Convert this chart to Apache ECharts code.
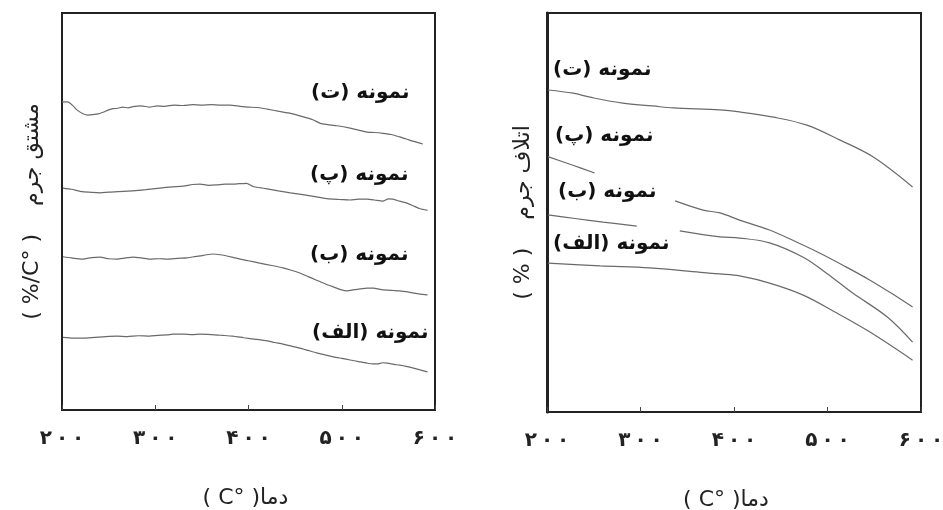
<!DOCTYPE html>
<html>
<head>
<meta charset="utf-8">
<script src="https://cdn.jsdelivr.net/npm/echarts@6/dist/echarts.min.js"></script>
<style>html,body{margin:0;padding:0;background:#fff}#c{width:943px;height:510px}</style>
</head>
<body>
<div id="c"></div>
<script>
// ---- data ----
var xTicks = [200, 300, 400, 500, 600];
var xTickLabels = ['۲۰۰', '۳۰۰', '۴۰۰', '۵۰۰', '۶۰۰'];
var seriesNames = ['نمونه (الف)', 'نمونه (ب)', 'نمونه (پ)', 'نمونه (ت)'];

// left panel: derivative of mass (relative units)
var leftA = [[201,18.3],[212,18.1],[222,18.1],[235,18.3],[247,18.5],[259,18.6],[270,18.5],[282,18.7],[294,18.6],[303,18.8],[313,18.9],[319,19.1],[330,19.1],[340,19.0],[348,19.1],[360,19.0],[372,18.8],[383,18.6],[395,18.2],[408,17.8],[420,17.4],[428,17.0],[437,16.6],[446,16.1],[455,15.6],[464,15.0],[473,14.4],[482,13.9],[491,13.4],[500,13.0],[509,12.6],[518,12.2],[527,11.8],[533,11.6],[538,11.6],[544,11.9],[549,11.8],[556,11.5],[562,11.3],[569,11.0],[576,10.6],[584,10.1],[592,9.6]];
var leftB = [[201,38.6],[210,38.3],[222,38.0],[232,38.4],[241,38.5],[250,38.1],[259,38.0],[268,38.3],[276,38.5],[285,38.3],[294,38.0],[304,38.1],[313,38.0],[324,38.2],[334,38.3],[341,38.6],[348,38.8],[355,39.1],[362,39.3],[370,39.1],[377,38.8],[384,38.4],[391,38.0],[400,37.6],[412,37.0],[425,36.4],[437,35.8],[446,35.2],[455,34.5],[464,33.6],[473,32.7],[482,31.8],[491,31.0],[498,30.4],[506,30.0],[513,30.3],[520,30.5],[527,30.7],[534,30.7],[541,30.4],[549,30.2],[556,30.1],[562,30.0],[569,29.8],[576,29.5],[584,29.2],[592,29.0]];
var leftP = [[201,55.9],[210,55.6],[222,55.0],[232,54.8],[241,54.7],[250,54.9],[260,55.0],[276,55.2],[290,55.5],[305,55.9],[318,56.2],[330,56.4],[340,56.8],[348,56.9],[357,56.6],[366,56.7],[375,56.9],[383,56.9],[390,57.0],[398,57.1],[405,56.3],[412,56.0],[420,55.7],[432,55.2],[445,54.7],[460,54.2],[473,53.7],[482,53.3],[491,53.1],[500,53.0],[509,52.9],[518,53.1],[527,53.1],[535,52.9],[544,52.6],[550,53.2],[555,53.1],[562,52.6],[570,52.1],[577,51.4],[584,50.7],[592,50.3]];
var leftT = [[200,77.6],[206,77.6],[211,76.8],[216,75.6],[222,74.7],[228,74.3],[233,74.4],[239,74.6],[244,75.0],[250,75.6],[255,75.9],[260,76.0],[265,76.3],[271,76.1],[276,76.4],[285,76.6],[294,76.3],[302,76.6],[310,76.5],[320,76.8],[330,76.7],[340,76.9],[350,76.8],[360,76.9],[370,76.8],[380,76.8],[391,76.5],[400,76.3],[410,76.2],[420,75.8],[433,75.2],[445,74.7],[458,73.9],[469,73.1],[477,72.2],[485,71.9],[495,71.6],[509,71.0],[518,70.5],[527,70.0],[535,69.9],[544,69.7],[553,69.4],[562,68.8],[570,68.2],[578,67.6],[587,67.0]];

// right panel: mass loss (relative units); null = break in the curve
var rightA = [[201,37.3],[257,36.6],[310,36.1],[364,35.0],[385,34.6],[406,34.1],[438,32.3],[474,29.3],[510,24.8],[545,20.1],[591,13.0]];
var rightB = [[201,49.4],[230,48.5],[260,47.6],[296,46.6],[318,null],[342,45.4],[385,43.9],[406,43.6],[438,42.4],[474,38.8],[499,34.8],[527,29.8],[564,23.8],[591,17.5]];
var rightP = [[201,64.0],[227,61.9],[251,59.9],[290,null],[337,52.9],[367,50.6],[385,49.9],[406,48.1],[438,45.6],[465,42.8],[492,39.8],[518,36.6],[545,33.1],[568,29.8],[591,26.3]];
var rightT = [[201,80.7],[228,79.9],[246,78.9],[281,77.4],[313,76.7],[335,76.2],[385,75.7],[406,75.2],[442,73.9],[478,71.9],[513,68.2],[549,63.9],[591,56.4]];

var xName = '( C° )دما';
var leftYName = '( %/C° )    مشتق جرم';
var rightYName = '( % )    اتلاف جرم';

// ---- chart ----
var FONT = 'DejaVu Sans';
var lineColor = '#6a6a6a';
function xAxis(gi, shift) {
  return {
    type: 'value', gridIndex: gi, min: 200, max: 600, interval: 100,
    name: xName, nameLocation: 'middle', nameGap: 77,
    nameTextStyle: { fontSize: 22, color: '#222', fontFamily: FONT, padding: [0, shift, 0, 0] },
    axisLine: { show: false },
    axisTick: { show: true, inside: true, length: 5, lineStyle: { color: '#444', width: 1 } },
    splitLine: { show: false },
    axisLabel: {
      margin: 19, fontSize: 20, fontWeight: 'bold', color: '#222', fontFamily: FONT,
      formatter: function (v) {
        var i = xTicks.indexOf(v);
        return i >= 0 ? xTickLabels[i].split('').join('\u2009') : '';
      }
    }
  };
}
function yAxis(gi, name, gap, lw) {
  return {
    type: 'value', gridIndex: gi, min: 0, max: 100,
    name: name, nameLocation: 'middle', nameGap: gap, nameRotate: 90,
    nameTextStyle: { fontSize: 22, color: '#222', fontFamily: FONT },
    axisLine: { show: true, lineStyle: { color: '#222', width: lw } },
    axisTick: { show: false }, axisLabel: { show: false }, splitLine: { show: false }
  };
}
function line(name, data, gi, smooth) {
  return {
    name: name, type: 'line', xAxisIndex: gi, yAxisIndex: gi, data: data,
    showSymbol: false, smooth: smooth, connectNulls: false, silent: true,
    lineStyle: { color: lineColor, width: 1.2 }
  };
}
function label(text, x, y) {
  return {
    type: 'text', x: x, y: y, z: 100,
    style: {
      text: '\u200F' + text + '\u200F', fill: '#111', fontSize: 20, fontWeight: 'bold',
      fontFamily: FONT, align: 'left', verticalAlign: 'middle'
    }
  };
}

var chart = echarts.init(document.getElementById('c'), null, { renderer: 'canvas' });
chart.setOption({
  animation: false,
  backgroundColor: '#fff',
  textStyle: { fontFamily: FONT },
  grid: [
    { left: 62, right: 508, top: 13, bottom: 100, show: true, borderColor: '#222', borderWidth: 2, backgroundColor: 'transparent', containLabel: false, outerBoundsMode: 'none' },
    { left: 547, right: 22, top: 13, bottom: 98, show: true, borderColor: '#222', borderWidth: 2, backgroundColor: 'transparent', containLabel: false, outerBoundsMode: 'none' }
  ],
  xAxis: [xAxis(0, 6), xAxis(1, 16)],
  yAxis: [yAxis(0, leftYName, 19, 2), yAxis(1, rightYName, 13, 3)],
  series: [
    line(seriesNames[0], leftA, 0, 0.2), line(seriesNames[1], leftB, 0, 0.2),
    line(seriesNames[2], leftP, 0, 0.2), line(seriesNames[3], leftT, 0, 0.2),
    line(seriesNames[0], rightA, 1, 0.35), line(seriesNames[1], rightB, 1, 0.35),
    line(seriesNames[2], rightP, 1, 0.35), line(seriesNames[3], rightT, 1, 0.35)
  ],
  graphic: [
    label(seriesNames[3], 311, 93), label(seriesNames[2], 310, 175),
    label(seriesNames[1], 310, 255), label(seriesNames[0], 312, 333),
    label(seriesNames[3], 553, 70), label(seriesNames[2], 555, 136),
    label(seriesNames[1], 558, 192), label(seriesNames[0], 553, 244)
  ]
});
</script>
</body>
</html>
